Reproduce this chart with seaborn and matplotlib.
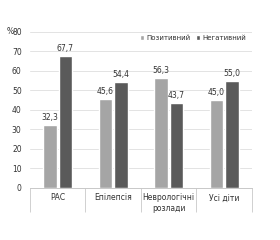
import matplotlib
matplotlib.use("Agg")
import matplotlib.pyplot as plt
import seaborn as sns
import pandas as pd

categories = ["РАС", "Епілепсія", "Неврологічні\nрозлади", "Усі діти"]
positive = [32.3, 45.6, 56.3, 45.0]
negative = [67.7, 54.4, 43.7, 55.0]
series = ["Позитивний", "Негативний"]
colors = ["#a5a5a5", "#5a5a5a"]

df = pd.DataFrame({
    "cat": categories * 2,
    "val": positive + negative,
    "series": [series[0]] * 4 + [series[1]] * 4,
})

sns.set_style("white")
plt.rcParams["font.family"] = ["DejaVu Sans"]

fig = plt.figure(figsize=(2.8, 2.4), dpi=100)
ax = fig.add_axes([0.107, 0.217, 0.793, 0.65])

sns.barplot(data=df, x="cat", y="val", hue="series", palette=colors,
            width=0.55, gap=0.12, ax=ax, legend=True, saturation=1)

for cont in ax.containers:
    ax.bar_label(cont, labels=[f"{v:.1f}".replace(".", ",") for v in cont.datavalues],
                 fontsize=5.5, padding=2, color="#333333")

ax.set_ylim(0, 80)
ax.set_yticks(range(0, 81, 10))
ax.set_xlim(-0.5, 3.5)
ax.yaxis.grid(True, color="#e3e3e3", linewidth=0.7)
ax.set_axisbelow(True)
for s in ["top", "right", "left"]:
    ax.spines[s].set_visible(False)
ax.spines["bottom"].set_color("#c8c8c8")
ax.spines["bottom"].set_linewidth(0.7)

ax.tick_params(axis="y", length=0, labelsize=5.5, labelcolor="#333333", pad=6)
ax.tick_params(axis="x", which="major", length=0, labelsize=5.5, labelcolor="#333333", pad=4)
ax.set_xticks([-0.5, 0.5, 1.5, 2.5, 3.5], minor=True)
ax.tick_params(axis="x", which="minor", bottom=True, length=17, color="#d0d0d0", width=0.7)
ax.set_xlabel("")
ax.set_ylabel("")

fig.text(0.022, 0.867, "%", fontsize=5.5, color="#333333", va="center")

ax.legend(loc="upper right", bbox_to_anchor=(1.0, 1.02), ncol=2, frameon=False,
          fontsize=5, handlelength=0.6, handleheight=0.6, columnspacing=0.8,
          handletextpad=0.3, labelcolor="#333333")

fig.savefig("out.png", dpi=100, facecolor="white")
